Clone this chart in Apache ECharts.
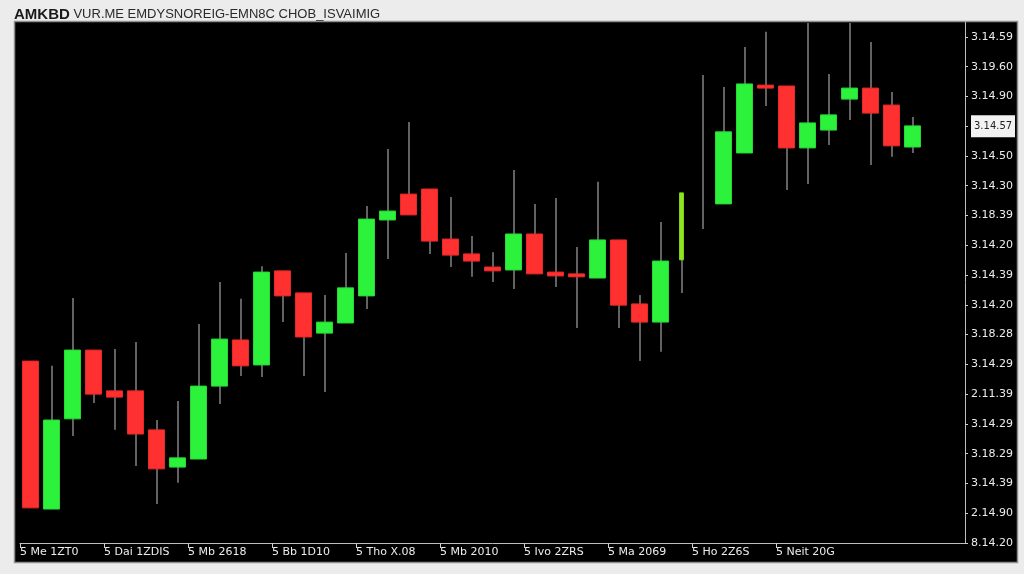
<!DOCTYPE html>
<html><head><meta charset="utf-8">
<script src="https://cdn.jsdelivr.net/npm/echarts@6/dist/echarts.min.js"></script>
<style>html,body{margin:0;padding:0;background:#ececec}#c{width:1024px;height:574px}</style>
</head><body><div id="c"></div>
<script>
const titleBold = 'AMKBD';
const titleRest = 'VUR.ME EMDYSNOREIG-EMN8C CHOB_ISVAIMIG';

const openV  = [6.11,1.14,4.17,6.48,5.11,5.11,3.80,2.55,2.82,5.27,6.82,5.98,9.14,8.40,7.05,7.39,8.30,10.85,11.72,11.89,10.21,9.71,9.27,9.17,10.38,9.10,9.04,8.90,10.18,8.03,7.42,9.51,11.94,11.39,13.10,15.38,15.35,13.27,13.87,14.91,15.28,14.71,13.30];
const closeV = [1.18,4.13,6.48,5.00,4.90,3.66,2.49,2.86,5.27,6.85,5.95,9.10,8.30,6.92,7.42,8.57,10.88,11.15,11.02,10.14,9.67,9.47,9.14,10.38,9.04,8.97,8.94,10.18,7.99,7.42,9.47,11.76,11.94,13.81,15.42,15.28,13.27,14.11,14.38,15.28,14.44,13.34,14.01];
const lowV   = [1.18,1.14,3.59,4.70,3.80,2.59,1.31,2.02,2.82,4.67,5.61,5.58,7.42,5.61,5.07,7.39,7.86,9.54,11.02,9.71,9.27,8.94,8.77,8.53,9.04,8.60,7.22,8.90,7.22,6.11,6.42,8.40,10.55,11.39,13.10,14.68,11.86,12.06,13.37,14.21,12.70,12.97,13.10];
const highV  = [6.11,5.95,8.23,6.48,6.52,6.75,4.13,4.77,7.36,8.77,8.20,9.30,9.14,8.40,8.33,9.74,11.32,13.23,14.14,11.89,11.62,10.31,9.77,12.53,11.39,11.59,9.94,12.13,10.18,8.33,10.78,11.76,15.72,15.32,16.66,17.17,15.35,17.47,15.75,17.47,16.83,15.15,14.31];
const spikeIndex = 31;
const dojiIndex = 32;
const emptySlots = 2;

const xTickLabels = ['5 Me 1ZT0','5 Dai 1ZDIS','5 Mb 2618','5 Bb 1D10','5 Tho X.08','5 Mb 2010','5 Ivo 2ZRS','5 Ma 2069','5 Ho 2Z6S','5 Neit 20G'];
const yTickLabels = ['8.14.20','2.14.90','3.14.39','3.18.29','3.14.29','2.11.39','3.14.29','3.18.28','3.14.20','3.14.39','3.14.20','3.18.39','3.14.30','3.14.50','3.14.57','3.14.90','3.19.60','3.14.59'];
const lastPriceTick = 14;

const n = openV.length;
const totalSlots = n + emptySlots;
const cats = Array.from({length: totalSlots}, (_, i) => String(i));
const tickCats = Array.from({length: totalSlots + 1}, (_, i) => (i % 4 === 0 && i / 4 < xTickLabels.length) ? xTickLabels[i / 4] : '');

const wickData = openV.map((o, i) => [lowV[i], highV[i], lowV[i], highV[i]]);
const bodyData = openV.map((o, i) => (i === spikeIndex || i === dojiIndex) ? '-' : [o, closeV[i], Math.min(o, closeV[i]), Math.max(o, closeV[i])]);
const spikeData = openV.map((o, i) => i === spikeIndex ? [o, closeV[i], Math.min(o, closeV[i]), Math.max(o, closeV[i])] : '-');

const chart = echarts.init(document.getElementById('c'));
chart.setOption({
  backgroundColor: '#ececec',
  animation: false,
  title: {
    text: '{b|' + titleBold + '} ' + titleRest,
    left: 9, top: 2,
    textStyle: {
      fontSize: 13, color: '#2a2a2a', fontWeight: 'normal',
      fontFamily: '"Liberation Sans Narrow", "Liberation Sans", sans-serif',
      rich: { b: { fontSize: 15, fontWeight: 'bold', color: '#1a1a1a', fontFamily: '"Liberation Sans Narrow", "Liberation Sans", sans-serif' } }
    }
  },
  graphic: [{
    type: 'rect', z: -10, silent: true,
    shape: { x: 14.5, y: 21.5, width: 1003, height: 541 },
    style: { fill: '#000', stroke: '#8f8f8f', lineWidth: 1.5 }
  }],
  grid: { left: 20, right: 59, top: 22, bottom: 31 },
  xAxis: [{
    type: 'category', data: cats, boundaryGap: true,
    axisLine: { show: true, lineStyle: { color: '#bdbdbd', width: 1 } },
    axisTick: { show: false }, axisLabel: { show: false }, splitLine: { show: false }
  }, {
    type: 'category', data: tickCats, boundaryGap: false, position: 'bottom',
    axisLine: { show: false },
    axisTick: { show: true, length: 5, interval: (i) => i % 4 === 0 && i / 4 < xTickLabels.length, lineStyle: { color: '#cfcfcf' } },
    axisLabel: { show: true, interval: 0, align: 'left', margin: 4, color: '#ececec', fontSize: 11, fontFamily: 'DejaVu Sans' },
    splitLine: { show: false }
  }],
  yAxis: {
    type: 'value', position: 'right', min: 0, max: 17.5, interval: 1, scale: false,
    axisLine: { show: true, lineStyle: { color: '#bdbdbd', width: 1 } },
    axisTick: { show: true, length: 3, lineStyle: { color: '#cfcfcf' } },
    splitLine: { show: false },
    axisLabel: {
      margin: 6, color: '#ececec', fontSize: 11, fontFamily: 'DejaVu Sans',
      showMaxLabel: false,
      formatter: (v) => {
        if (!Number.isInteger(v)) return '';
        if (v === lastPriceTick) return '{box|' + yTickLabels[v] + '}';
        return yTickLabels[v] || '';
      },
      rich: { box: { backgroundColor: '#f2f2f2', color: '#222', fontSize: 10, padding: [6, 4, 6, 3], width: 37, fontFamily: 'DejaVu Sans' } }
    }
  },
  series: [{
    type: 'candlestick', name: 'wick', data: wickData, barWidth: 1.5, z: 2,
    itemStyle: { color: '#c4c4c4', color0: '#c4c4c4', borderColor: '#c4c4c4', borderColor0: '#c4c4c4', borderWidth: 0 }
  }, {
    type: 'candlestick', name: 'body', data: bodyData, barWidth: 16, z: 3,
    itemStyle: { color: '#2cf23c', color0: '#ff3030', borderColor: '#27d836', borderColor0: '#e82828', borderWidth: 1 }
  }, {
    type: 'candlestick', name: 'spike', data: spikeData, barWidth: 5, z: 4,
    itemStyle: { color: '#8fe61e', color0: '#8fe61e', borderColor: '#7fd018', borderColor0: '#7fd018', borderWidth: 1 }
  }]
});
</script></body></html>
